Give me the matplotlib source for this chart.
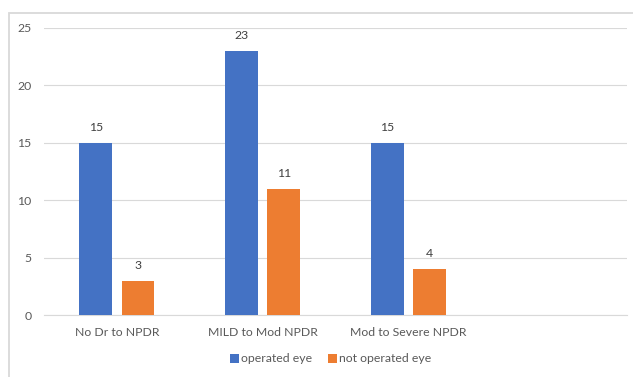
import matplotlib
matplotlib.use("Agg")
import matplotlib.pyplot as plt
from matplotlib.patches import Rectangle
import numpy as np

categories = ["No Dr to NPDR", "MILD to Mod NPDR", "Mod to Severe NPDR", ""]
operated = [15, 23, 15, None]
not_operated = [3, 11, 4, None]
series_names = ["operated eye", "not operated eye"]
colors = ["#4472C4", "#ED7D31"]

plt.rcParams['font.family'] = ['Lato', 'DejaVu Sans']
FS = 8.8

fig = plt.figure(figsize=(6.33, 3.77), dpi=100)
fig.patches.append(Rectangle((9/633, -0.5), 2.0, 1.5 - 12.5/377,
                             transform=fig.transFigure, fill=False,
                             edgecolor="#d9d9d9", linewidth=1.3))
ax = fig.add_axes([44/633, 1-315/377, (627-44)/633, (315-28)/377])

x = np.arange(len(categories))
w = 0.225
off = 0.145
handles = []
for vals, shift, c, name in [(operated, -off, colors[0], series_names[0]),
                             (not_operated, off, colors[1], series_names[1])]:
    xs = [xi + shift for xi, v in zip(x, vals) if v is not None]
    vs = [v for v in vals if v is not None]
    b = ax.bar(xs, vs, width=w, color=c, label=name, zorder=3)
    handles.append(b)
    for xi, v in zip(xs, vs):
        ax.text(xi, v + 0.85, str(v), ha="center", va="bottom",
                fontsize=FS, color="#404040")

ax.set_xlim(-0.5, len(categories) - 0.5)
ax.set_ylim(0, 25)
ax.set_yticks([0, 5, 10, 15, 20, 25])
ax.set_xticks(x)
ax.set_xticklabels(categories)
ax.tick_params(axis="both", length=0, labelsize=FS, labelcolor="#595959")
ax.tick_params(axis="x", pad=9)
ax.tick_params(axis="y", pad=9)
ax.grid(axis="y", color="#d9d9d9", linewidth=0.8, zorder=0)
for s in ["top", "right", "left"]:
    ax.spines[s].set_visible(False)
ax.spines["bottom"].set_color("#d9d9d9")
ax.set_facecolor("none")

fig.legend(handles=handles, labels=series_names, loc="center",
           bbox_to_anchor=(331/633, 1-359/377), ncol=2, frameon=False,
           fontsize=FS, handlelength=0.7, handleheight=0.7,
           handletextpad=0.2, columnspacing=1.3, labelcolor="#595959")

fig.savefig("out.png", dpi=100)
